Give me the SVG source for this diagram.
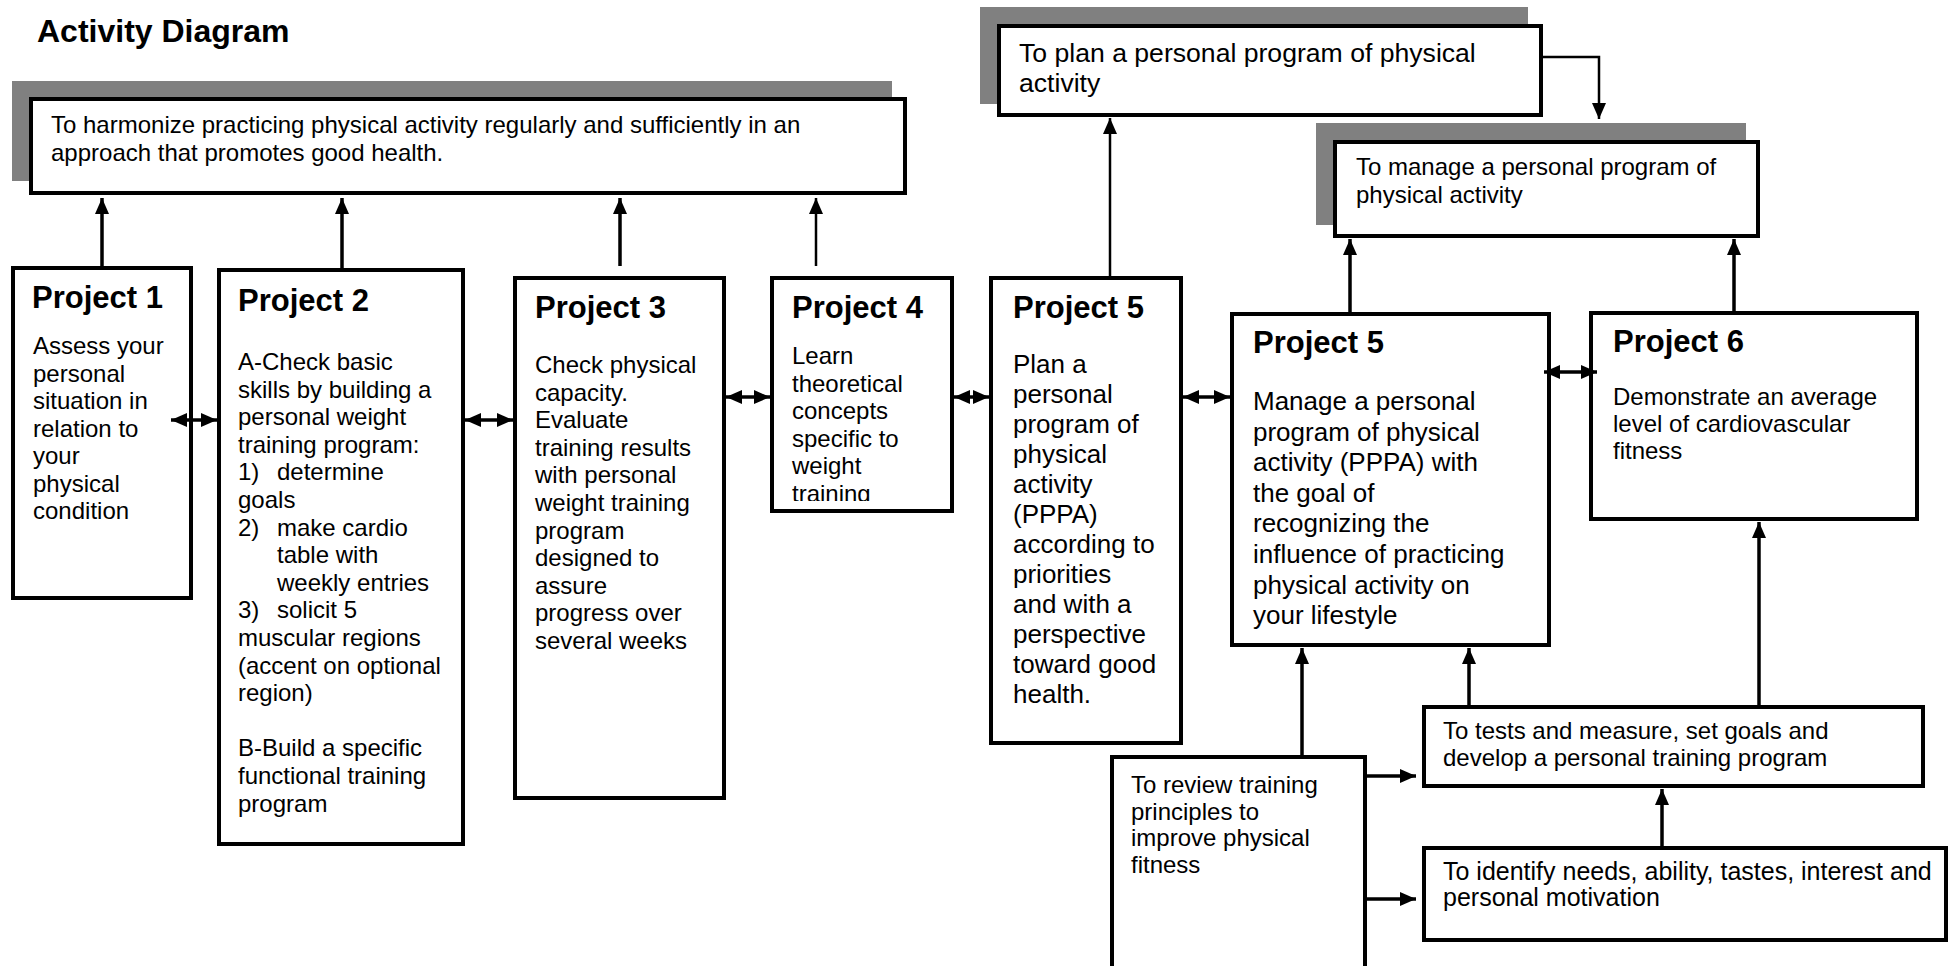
<svg xmlns="http://www.w3.org/2000/svg" width="1956" height="966" viewBox="0 0 1956 966">
<style>
text { font-family: "Liberation Sans", Arial, sans-serif; fill: #000; }
.title { font-size: 32px; font-weight: bold; }
.h { font-size: 31px; font-weight: bold; }
.t24 { font-size: 24px; }
.t25 { font-size: 25px; }
.t26 { font-size: 26px; }
.box { fill: #fff; stroke: #000; stroke-width: 4; }
.shadow { fill: #808080; }
.c { fill: none; stroke: #000; stroke-width: 3.5; }
.c2 { fill: none; stroke: #000; stroke-width: 2.5; }
</style>
<defs>
<marker id="ah" markerUnits="userSpaceOnUse" markerWidth="18" markerHeight="16" refX="16" refY="7" orient="auto-start-reverse">
<path d="M0,0 L16,7 L0,14 z" fill="#000"/>
</marker>
<clipPath id="clip4"><rect x="770" y="276" width="184" height="225"/></clipPath>
</defs>

<text class="title" x="37" y="42">Activity Diagram</text>

<g id="goal-harmonize">
<rect class="shadow" x="12" y="81" width="880" height="100"/>
<rect class="box" x="31" y="99" width="874" height="94"/>
<text class="t24" x="51"><tspan x="51" y="133">To harmonize practicing physical activity regularly and sufficiently in an</tspan><tspan x="51" y="161">approach that promotes good health.</tspan></text>
</g>

<g id="goal-plan">
<rect class="shadow" x="980" y="7" width="548" height="97"/>
<rect class="box" x="999" y="26" width="542" height="89"/>
<text class="t26" style="font-size:26.6px"><tspan x="1019" y="62">To plan a personal program of physical</tspan><tspan x="1019" y="92">activity</tspan></text>
</g>

<g id="goal-manage">
<rect class="shadow" x="1316" y="123" width="430" height="102"/>
<rect class="box" x="1335" y="142" width="423" height="94"/>
<text class="t24"><tspan x="1356" y="175">To manage a personal program of</tspan><tspan x="1356" y="203">physical activity</tspan></text>
</g>

<g id="project1">
<rect class="box" x="13" y="268" width="178" height="330"/>
<text class="h" x="32" y="308">Project 1</text>
<text class="t24"><tspan x="33" y="354">Assess your</tspan><tspan x="33" y="381.5">personal</tspan><tspan x="33" y="409">situation in</tspan><tspan x="33" y="436.5">relation to</tspan><tspan x="33" y="464">your</tspan><tspan x="33" y="491.5">physical</tspan><tspan x="33" y="519">condition</tspan></text>
</g>

<g id="project2">
<rect class="box" x="219" y="270" width="244" height="574"/>
<text class="h" x="238" y="311">Project 2</text>
<text class="t24"><tspan x="238" y="370">A-Check basic</tspan><tspan x="238" y="397.6">skills by building a</tspan><tspan x="238" y="425.2">personal weight</tspan><tspan x="238" y="452.8">training program:</tspan><tspan x="238" y="480.4">1)</tspan><tspan x="277" y="480.4">determine</tspan><tspan x="238" y="508">goals</tspan><tspan x="238" y="535.6">2)</tspan><tspan x="277" y="535.6">make cardio</tspan><tspan x="277" y="563.2">table with</tspan><tspan x="277" y="590.8">weekly entries</tspan><tspan x="238" y="618.4">3)</tspan><tspan x="277" y="618.4">solicit 5</tspan><tspan x="238" y="646">muscular regions</tspan><tspan x="238" y="673.6">(accent on optional</tspan><tspan x="238" y="701.2">region)</tspan><tspan x="238" y="756.4">B-Build a specific</tspan><tspan x="238" y="784">functional training</tspan><tspan x="238" y="811.6">program</tspan></text>
</g>

<g id="project3">
<rect class="box" x="515" y="278" width="209" height="520"/>
<text class="h" x="535" y="318">Project 3</text>
<text class="t24"><tspan x="535" y="373">Check physical</tspan><tspan x="535" y="400.6">capacity.</tspan><tspan x="535" y="428.2">Evaluate</tspan><tspan x="535" y="455.8">training results</tspan><tspan x="535" y="483.4">with personal</tspan><tspan x="535" y="511">weight training</tspan><tspan x="535" y="538.6">program</tspan><tspan x="535" y="566.2">designed to</tspan><tspan x="535" y="593.8">assure</tspan><tspan x="535" y="621.4">progress over</tspan><tspan x="535" y="649">several weeks</tspan></text>
</g>

<g id="project4">
<rect class="box" x="772" y="278" width="180" height="233"/>
<text class="h" x="792" y="318">Project 4</text>
<text class="t24" clip-path="url(#clip4)"><tspan x="792" y="364">Learn</tspan><tspan x="792" y="391.5">theoretical</tspan><tspan x="792" y="419">concepts</tspan><tspan x="792" y="446.5">specific to</tspan><tspan x="792" y="474">weight</tspan><tspan x="792" y="501.5">training</tspan></text>
</g>

<g id="project5-plan">
<rect class="box" x="991" y="278" width="190" height="465"/>
<text class="h" x="1013" y="318">Project 5</text>
<text class="t26"><tspan x="1013" y="373">Plan a</tspan><tspan x="1013" y="403">personal</tspan><tspan x="1013" y="433">program of</tspan><tspan x="1013" y="463">physical</tspan><tspan x="1013" y="493">activity</tspan><tspan x="1013" y="523">(PPPA)</tspan><tspan x="1013" y="553">according to</tspan><tspan x="1013" y="583">priorities</tspan><tspan x="1013" y="613">and with a</tspan><tspan x="1013" y="643">perspective</tspan><tspan x="1013" y="673">toward good</tspan><tspan x="1013" y="703">health.</tspan></text>
</g>

<g id="project5-manage">
<rect class="box" x="1232" y="314" width="317" height="331"/>
<text class="h" x="1253" y="353">Project 5</text>
<text class="t26"><tspan x="1253" y="410">Manage a personal</tspan><tspan x="1253" y="440.6">program of physical</tspan><tspan x="1253" y="471.2">activity (PPPA) with</tspan><tspan x="1253" y="501.8">the goal of</tspan><tspan x="1253" y="532.4">recognizing the</tspan><tspan x="1253" y="563">influence of practicing</tspan><tspan x="1253" y="593.6">physical activity on</tspan><tspan x="1253" y="624.2">your lifestyle</tspan></text>
</g>

<g id="project6">
<rect class="box" x="1591" y="313" width="326" height="206"/>
<text class="h" x="1613" y="352">Project 6</text>
<text class="t24"><tspan x="1613" y="405">Demonstrate an average</tspan><tspan x="1613" y="432">level of cardiovascular</tspan><tspan x="1613" y="459">fitness</tspan></text>
</g>

<g id="review">
<rect class="box" x="1112" y="757" width="253" height="220"/>
<text class="t24"><tspan x="1131" y="793">To review training</tspan><tspan x="1131" y="819.5">principles to</tspan><tspan x="1131" y="846">improve physical</tspan><tspan x="1131" y="872.5">fitness</tspan></text>
</g>

<g id="tests">
<rect class="box" x="1424" y="707" width="499" height="79"/>
<text class="t24"><tspan x="1443" y="739">To tests and measure, set goals and</tspan><tspan x="1443" y="766">develop a personal training program</tspan></text>
</g>

<g id="identify">
<rect class="box" x="1424" y="848" width="522" height="92"/>
<text class="t25"><tspan x="1443" y="880">To identify needs, ability, tastes, interest and</tspan><tspan x="1443" y="906">personal motivation</tspan></text>
</g>

<g id="connectors">
<path class="c" d="M102,266 V198" marker-end="url(#ah)"/>
<path class="c" d="M342,268 V198" marker-end="url(#ah)"/>
<path class="c" d="M620,266 V198" marker-end="url(#ah)"/>
<path class="c2" d="M816,266 V198" marker-end="url(#ah)"/>
<path class="c2" d="M1110,276 V118" marker-end="url(#ah)"/>
<path class="c2" d="M1543,57 H1599 V119" marker-end="url(#ah)"/>
<path class="c" d="M1350,312 V239" marker-end="url(#ah)"/>
<path class="c" d="M1734,311 V239" marker-end="url(#ah)"/>
<path class="c" d="M1302,755 V648" marker-end="url(#ah)"/>
<path class="c" d="M1469,705 V648" marker-end="url(#ah)"/>
<path class="c" d="M1759,705 V522" marker-end="url(#ah)"/>
<path class="c" d="M1662,846 V789" marker-end="url(#ah)"/>
<path class="c" d="M1367,776 H1416" marker-end="url(#ah)"/>
<path class="c" d="M1367,899 H1416" marker-end="url(#ah)"/>
<path class="c" d="M171,420 H217" marker-start="url(#ah)" marker-end="url(#ah)"/>
<path class="c" d="M465,420 H513" marker-start="url(#ah)" marker-end="url(#ah)"/>
<path class="c" d="M726,397 H770" marker-start="url(#ah)" marker-end="url(#ah)"/>
<path class="c" d="M954,397 H989" marker-start="url(#ah)" marker-end="url(#ah)"/>
<path class="c" d="M1183,397 H1230" marker-start="url(#ah)" marker-end="url(#ah)"/>
<path class="c" d="M1544,372 H1597" marker-start="url(#ah)" marker-end="url(#ah)"/>
</g>
</svg>
